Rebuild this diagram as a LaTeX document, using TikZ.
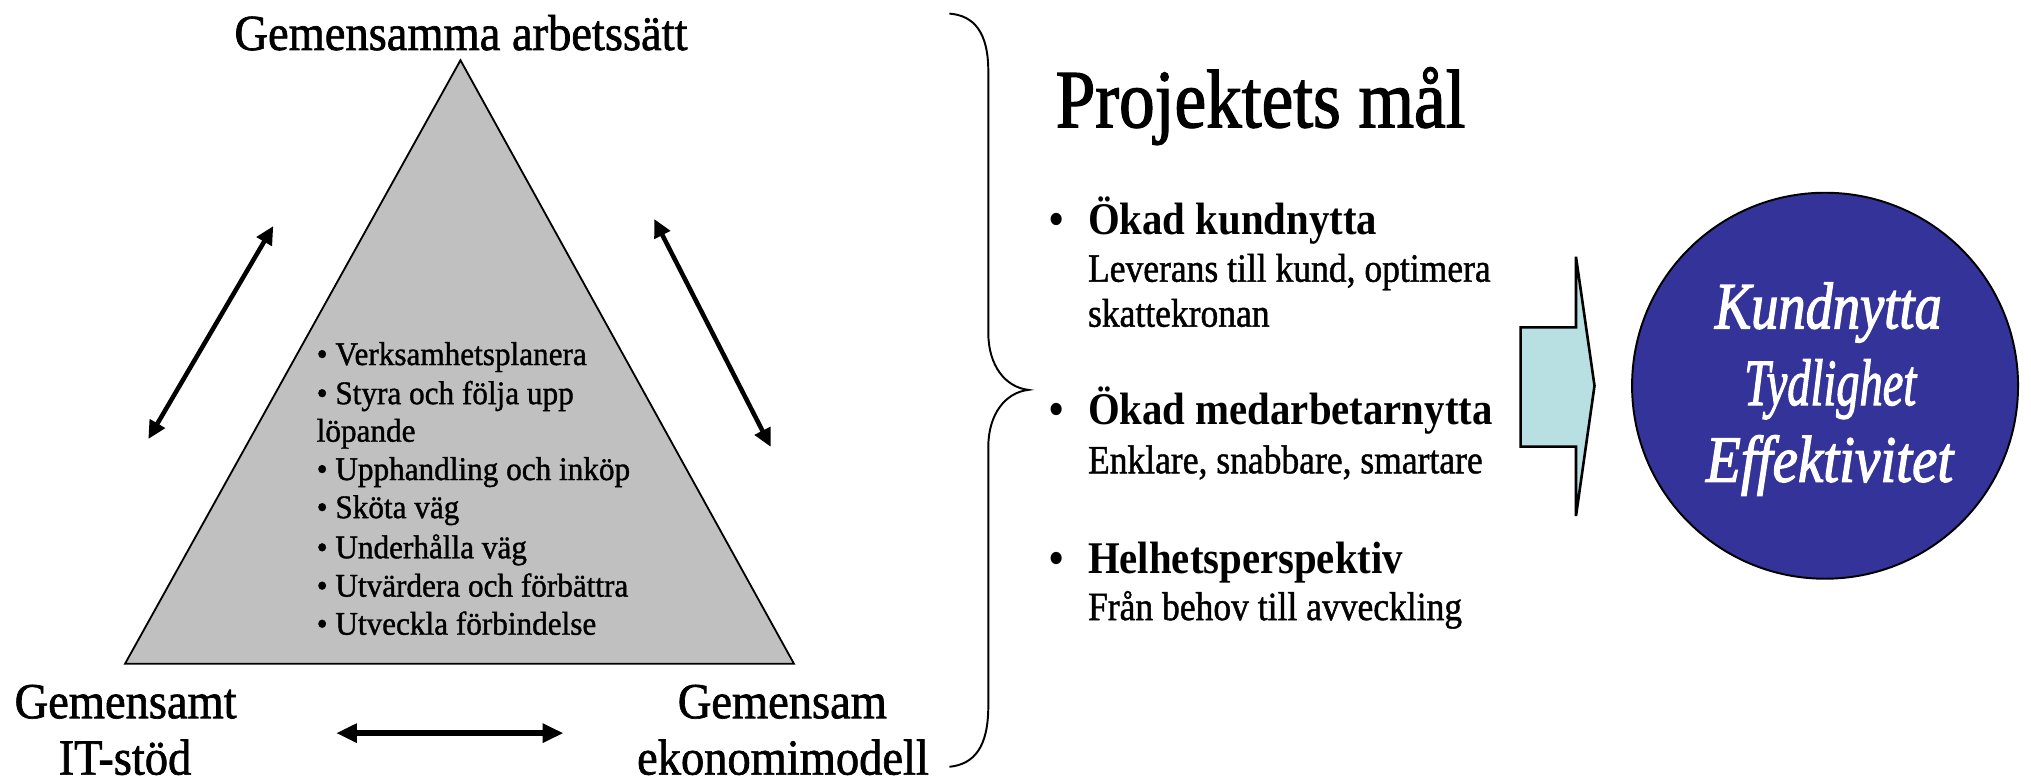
\documentclass[tikz,border=0pt]{standalone}
\usepackage{fontspec}
\usepackage{graphicx}
\setmainfont{Liberation Serif}
\newfontfamily\fTitle[FakeStretch=0.92,FakeBold=1.3]{Liberation Serif}
\newfontfamily\fList[FakeStretch=0.945,FakeBold=1.1]{Liberation Serif}
\newfontfamily\fProj[FakeStretch=0.86,FakeBold=1.5]{Liberation Serif}
\newfontfamily\fRight[FakeStretch=0.9]{Liberation Serif}
\newfontfamily\fSub[FakeStretch=0.885,FakeBold=1.1]{Liberation Serif}
\newfontfamily\fCirc[FakeBold=2]{Liberation Serif}
\usetikzlibrary{arrows.meta}
\definecolor{trigray}{HTML}{C0C0C0}
\definecolor{arrcyan}{HTML}{B8DFE2}
\definecolor{circblue}{HTML}{333399}
\begin{document}
\begin{tikzpicture}[x=1pt,y=-1pt,
  lbl/.style={inner sep=0pt,outer sep=0pt},
  corner/.style={lbl,anchor=base,font=\fTitle\fontsize{39}{39}\selectfont},
  item/.style={lbl,anchor=base west,font=\fList\fontsize{25.5}{25.5}\selectfont},
  head/.style={lbl,anchor=base west,font=\fRight\bfseries\fontsize{35}{35}\selectfont},
  sub/.style={lbl,anchor=base west,font=\fSub\fontsize{31}{31}\selectfont},
  circtxt/.style={lbl,anchor=base,text=white,font=\fCirc\itshape\fontsize{51}{51}\selectfont},
  dbl/.style={{Triangle[length=14pt,width=13pt]}-{Triangle[length=14pt,width=13pt]},line width=3.5pt},
  dblthick/.style={{Triangle[length=16pt,width=14pt]}-{Triangle[length=16pt,width=14pt]},line width=4.2pt},
]
\useasboundingbox (0,0) rectangle (1568,603.7);

% triangle
\coordinate (apex) at (355.5,46.5);
\coordinate (bl) at (96.5,512.5);
\coordinate (br) at (613,512.5);
\draw[fill=trigray,line width=1.4pt,line join=miter] (apex) -- (br) -- (bl) -- cycle;

% corner labels
\node[corner] (top) at (355.9,38.6) {Gemensamma arbetssätt};
\node[corner] (itA) at (97,554.5) {Gemensamt};
\node[corner] (itB) at (96.5,598) {IT-stöd};
\node[corner] (ekA) at (604,554.5) {Gemensam};
\node[corner] (ekB) at (604.5,598) {ekonomimodell};

% list in triangle
\node[item] (t1) at (244.5,281.8) {• Verksamhetsplanera};
\node[item] (t2) at (244.5,312) {• Styra och följa upp};
\node[item] (t3) at (244.5,341) {löpande};
\node[item] (t4) at (244.5,370.6) {• Upphandling och inköp};
\node[item] (t5) at (244.5,400) {• Sköta väg};
\node[item] (t6) at (244.5,431) {• Underhålla väg};
\node[item] (t7) at (244.5,460.6) {• Utvärdera och förbättra};
\node[item] (t8) at (244.5,490) {• Utveckla förbindelse};

% double arrows
\coordinate (la1) at (114.5,339);
\coordinate (la2) at (211,174.5);
\coordinate (ra1) at (505,169);
\coordinate (ra2) at (595,345);
\coordinate (ba1) at (259.5,566);
\coordinate (ba2) at (435,566);
\draw[dbl] (la1) -- (la2);
\draw[dbl] (ra1) -- (ra2);
\draw[dblthick] (ba1) -- (ba2);

% brace
\draw[line width=1.5pt] (733,10.5) .. controls (752,12) and (763,25) .. (763,55)
  -- (763,257) .. controls (763,282) and (776,299) .. (794,301)
  .. controls (776,303) and (763,320) .. (763,345)
  -- (763,545) .. controls (763,577) and (752,590) .. (733,592);

% right column
\node[lbl,anchor=base west,font=\fProj\fontsize{64}{64}\selectfont] (proj) at (815,98.3) {Projektets mål};
\node[head] (b1) at (810,181.4) {•};
\node[head] (h1) at (840,181.4) {Ökad kundnytta};
\node[sub] (s1a) at (840,217.5) {Leverans till kund, optimera};
\node[sub] (s1b) at (840,252.2) {skattekronan};
\node[head] (b2) at (810,328) {•};
\node[head] (h2) at (840,328) {Ökad medarbetarnytta};
\node[sub] (s2) at (840,365.4) {Enklare, snabbare, smartare};
\node[head] (b3) at (810,442.5) {•};
\node[head] (h3) at (840,442.5) {Helhetsperspektiv};
\node[sub] (s3) at (840,478.7) {Från behov till avveckling};

% block arrow
\draw[fill=arrcyan,line width=2pt,line join=miter] (1174,252.7) -- (1216.7,252.7) -- (1216.7,198.2)
  -- (1231,297.8) -- (1216.7,398.4) -- (1216.7,344.8) -- (1174,344.8) -- cycle;

% goal circle
\node[circle,draw,line width=1.5pt,fill=circblue,minimum size=298pt,inner sep=0pt] (goal) at (1409,297.8) {};
\node[circtxt] (c1) at (1411.5,253.5) {\scalebox{0.824}[1]{Kundnytta}};
\node[circtxt] (c2) at (1413,312.7) {\scalebox{0.703}[1]{Tydlighet}};
\node[circtxt] (c3) at (1412.5,371.9) {\scalebox{0.864}[1]{Effektivitet}};
\end{tikzpicture}
\end{document}
